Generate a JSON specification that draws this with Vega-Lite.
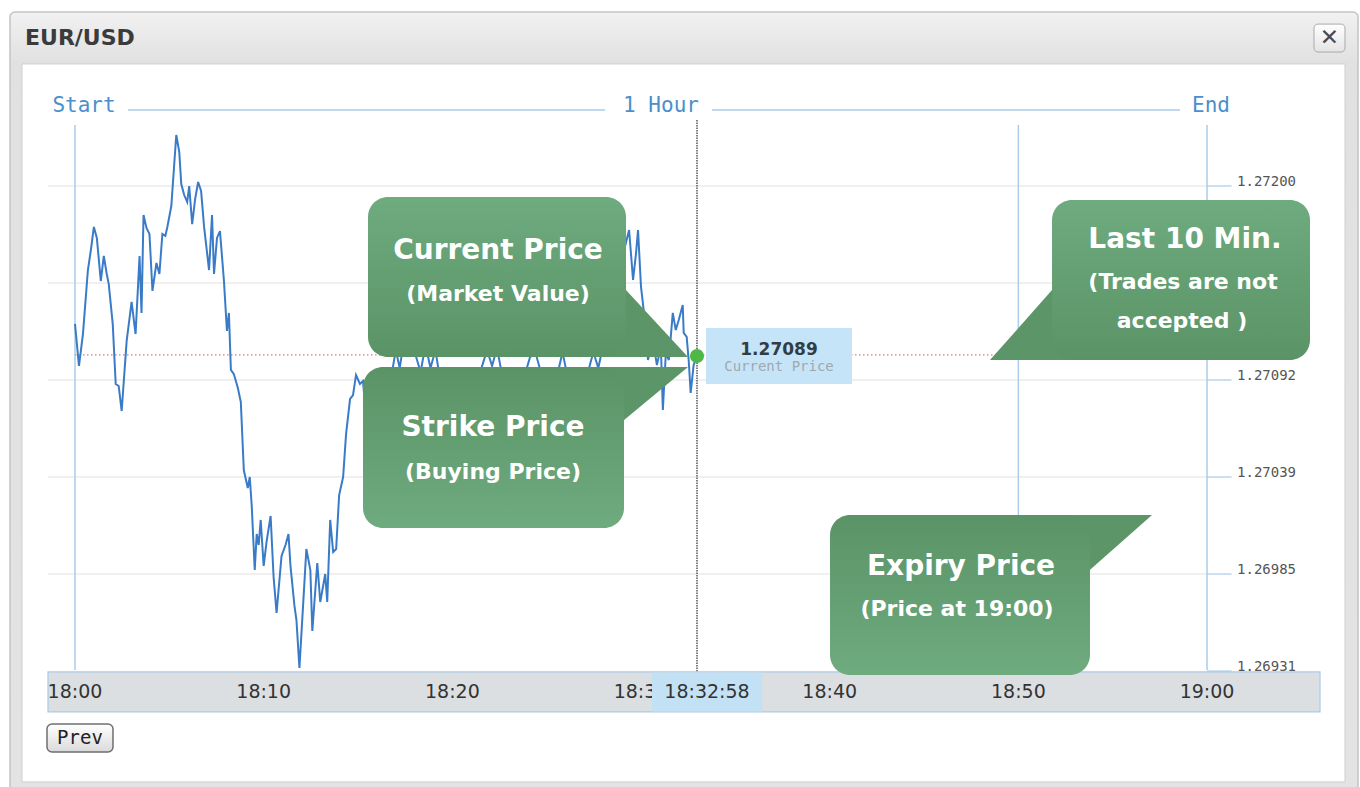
{
  "$schema": "https://vega.github.io/schema/vega-lite/v6.json",
  "width": 1360,
  "height": 787,
  "autosize": {"type": "none"},
  "padding": 0,
  "background": "#ffffff",
  "config": {"view": {"stroke": null}},
  "datasets": {
    "price": [
      {"m":0,"p":1.271235},{"m":0.211,"p":1.271002},{"m":0.421,"p":1.271179},{"m":0.684,"p":1.271534},{"m":0.842,"p":1.271645},
      {"m":1.0,"p":1.271773},{"m":1.158,"p":1.271712},{"m":1.368,"p":1.271473},{"m":1.526,"p":1.271612},{"m":1.684,"p":1.271512},
      {"m":1.789,"p":1.271456},{"m":2.0,"p":1.271235},{"m":2.158,"p":1.270902},{"m":2.316,"p":1.270891},{"m":2.474,"p":1.270752},
      {"m":2.737,"p":1.27114},{"m":3.0,"p":1.271357},{"m":3.211,"p":1.271179},{"m":3.421,"p":1.271612},{"m":3.526,"p":1.271296},
      {"m":3.632,"p":1.271839},{"m":3.789,"p":1.271767},{"m":3.947,"p":1.271734},{"m":4.105,"p":1.271418},{"m":4.316,"p":1.271573},
      {"m":4.474,"p":1.271512},{"m":4.632,"p":1.271734},{"m":4.789,"p":1.271723},{"m":4.895,"p":1.271773},{"m":5.105,"p":1.271889},
      {"m":5.316,"p":1.272205},{"m":5.368,"p":1.272283},{"m":5.526,"p":1.272189},{"m":5.632,"p":1.272011},{"m":5.789,"p":1.27195},
      {"m":5.947,"p":1.271911},{"m":6.053,"p":1.272},{"m":6.211,"p":1.271789},{"m":6.368,"p":1.271928},{"m":6.526,"p":1.272022},
      {"m":6.684,"p":1.271972},{"m":6.842,"p":1.271773},{"m":7.105,"p":1.271534},{"m":7.263,"p":1.271839},{"m":7.368,"p":1.271512},
      {"m":7.526,"p":1.271712},{"m":7.684,"p":1.27175},{"m":7.895,"p":1.271473},{"m":8.053,"p":1.271196},{"m":8.158,"p":1.271296},
      {"m":8.263,"p":1.27098},{"m":8.421,"p":1.270957},{"m":8.632,"p":1.27088},{"m":8.789,"p":1.270802},{"m":8.947,"p":1.270425},
      {"m":9.158,"p":1.270325},{"m":9.263,"p":1.270386},{"m":9.368,"p":1.270225},{"m":9.526,"p":1.26987},{"m":9.632,"p":1.27007},
      {"m":9.737,"p":1.270009},{"m":9.842,"p":1.270148},{"m":10.0,"p":1.269893},{"m":10.158,"p":1.270031},{"m":10.368,"p":1.27017},
      {"m":10.526,"p":1.269832},{"m":10.684,"p":1.269632},{"m":10.947,"p":1.269948},{"m":11.158,"p":1.270009},{"m":11.316,"p":1.27007},
      {"m":11.421,"p":1.269893},{"m":11.632,"p":1.269671},{"m":11.737,"p":1.269593},{"m":11.895,"p":1.269327},{"m":12.0,"p":1.269515},
      {"m":12.263,"p":1.269987},{"m":12.474,"p":1.26987},{"m":12.579,"p":1.269532},{"m":12.842,"p":1.269909},{"m":13.0,"p":1.269693},
      {"m":13.263,"p":1.269848},{"m":13.368,"p":1.269693},{"m":13.526,"p":1.270148},{"m":13.684,"p":1.26997},{"m":13.842,"p":1.269987},
      {"m":14.0,"p":1.270286},{"m":14.211,"p":1.270386},{"m":14.368,"p":1.270625},{"m":14.579,"p":1.270819},{"m":14.737,"p":1.270841},
      {"m":14.895,"p":1.270952},{"m":15.105,"p":1.270902},{"m":15.263,"p":1.270919},{"m":15.421,"p":1.270724},{"m":15.789,"p":1.270869},
      {"m":16.316,"p":1.270702},{"m":16.737,"p":1.270924},{"m":17.0,"p":1.27109},{"m":17.211,"p":1.270991},{"m":17.526,"p":1.271201},
      {"m":17.895,"p":1.271118},{"m":18.316,"p":1.270968},{"m":18.579,"p":1.271118},{"m":18.842,"p":1.270991},{"m":19.105,"p":1.27109},
      {"m":19.474,"p":1.270841},{"m":20.0,"p":1.270675},{"m":20.526,"p":1.270813},{"m":21.053,"p":1.270896},{"m":21.474,"p":1.270968},
      {"m":21.842,"p":1.27109},{"m":22.105,"p":1.271002},{"m":22.368,"p":1.271102},{"m":22.737,"p":1.270896},{"m":23.263,"p":1.270785},
      {"m":23.684,"p":1.270896},{"m":24.105,"p":1.271046},{"m":24.368,"p":1.27109},{"m":24.632,"p":1.270991},{"m":25.053,"p":1.270841},
      {"m":25.526,"p":1.270935},{"m":25.842,"p":1.271079},{"m":26.053,"p":1.270968},{"m":26.579,"p":1.270824},{"m":27.105,"p":1.270935},
      {"m":27.474,"p":1.271079},{"m":27.737,"p":1.270991},{"m":28.158,"p":1.271201},{"m":28.632,"p":1.271368},{"m":29.0,"p":1.271601},
      {"m":29.368,"p":1.271756},{"m":29.579,"p":1.271479},{"m":29.737,"p":1.271628},{"m":29.842,"p":1.271756},{"m":30.0,"p":1.27144},
      {"m":30.263,"p":1.271201},{"m":30.368,"p":1.271035},{"m":30.632,"p":1.271146},{"m":30.842,"p":1.271007},{"m":31.053,"p":1.271107},
      {"m":31.158,"p":1.270758},{"m":31.316,"p":1.271074},{"m":31.474,"p":1.271035},{"m":31.684,"p":1.271296},{"m":31.842,"p":1.271201},
      {"m":32.0,"p":1.271257},{"m":32.211,"p":1.27134},{"m":32.263,"p":1.271185},{"m":32.421,"p":1.271163},{"m":32.526,"p":1.271035},
      {"m":32.632,"p":1.270852},{"m":32.789,"p":1.271007},{"m":32.967,"p":1.271057}
    ],
    "grid": [{"p":1.272},{"p":1.271462},{"p":1.270924},{"p":1.270386},{"p":1.269848}],
    "ylabels": [{"p":1.272},{"p":1.270924},{"p":1.270386},{"p":1.269848},{"p":1.26931}],
    "markers": [{"m":0},{"m":50},{"m":60}],
    "times": [{"m":0,"t":"18:00"},{"m":10,"t":"18:10"},{"m":20,"t":"18:20"},{"m":30,"t":"18:30"},{"m":40,"t":"18:40"},{"m":50,"t":"18:50"},{"m":60,"t":"19:00"}],
    "header": [{"m":0.477,"t":"Start"},{"m":31.06,"t":"1 Hour"},{"m":60.211,"t":"End"}],
    "boxes": [
      {"callout":"Current Price","m1":15.53,"m2":29.205,"p1":1.271939,"p2":1.271052},
      {"callout":"Strike Price","m1":15.265,"m2":29.099,"p1":1.270996,"p2":1.270103},
      {"callout":"Last 10 Min.","m1":51.784,"m2":65.458,"p1":1.271922,"p2":1.271035},
      {"callout":"Expiry Price","m1":40.018,"m2":53.797,"p1":1.270175,"p2":1.269288}
    ],
    "pointers": [
      {"callout":"Current Price","m":27.826,"pa":1.271579,"pb":1.271052},
      {"callout":"Current Price","m":32.491,"pa":1.271052,"pb":1.271052},
      {"callout":"Strike Price","m":27.826,"pa":1.270996,"pb":1.270591},
      {"callout":"Strike Price","m":32.491,"pa":1.270996,"pb":1.270996},
      {"callout":"Last 10 Min.","m":48.497,"pa":1.271035,"pb":1.271035},
      {"callout":"Last 10 Min.","m":53.003,"pa":1.271567,"pb":1.271035},
      {"callout":"Expiry Price","m":52.526,"pa":1.270175,"pb":1.269754},
      {"callout":"Expiry Price","m":57.085,"pa":1.270175,"pb":1.270175}
    ],
    "notes": [
      {"text":"Current Price","m":22.42,"p":1.271639,"level":"head"},
      {"text":"(Market Value)","m":22.42,"p":1.271401,"level":"sub"},
      {"text":"Strike Price","m":22.155,"p":1.270658,"level":"head"},
      {"text":"(Buying Price)","m":22.155,"p":1.270414,"level":"sub"},
      {"text":"Last 10 Min.","m":58.833,"p":1.271701,"level":"head"},
      {"text":"(Trades are not","m":58.727,"p":1.271468,"level":"sub"},
      {"text":"accepted )","m":58.674,"p":1.271252,"level":"sub"},
      {"text":"Expiry Price","m":46.961,"p":1.269887,"level":"head"},
      {"text":"(Price at 19:00)","m":46.749,"p":1.269655,"level":"sub"}
    ]
  },
  "layer": [
    {
      "data": {"values": [{}]},
      "mark": {"type": "rect", "fill": {"gradient": "linear", "x1": 0, "y1": 0, "x2": 0, "y2": 1, "stops": [{"offset": 0, "color": "#f1f1f1"}, {"offset": 0.065, "color": "#e1e1e1"}, {"offset": 1, "color": "#e3e3e3"}]}, "stroke": "#c4c4c4", "strokeWidth": 1.5, "cornerRadius": 5},
      "encoding": {
        "x": {"datum": -3.445, "type": "quantitative", "axis": null, "scale": {"domain": [-3.975, 68.108], "nice": false, "zero": false}},
        "x2": {"datum": 68.003},
        "y": {"datum": 1.272965, "type": "quantitative", "axis": null, "scale": {"domain": [1.2686669, 1.2730316], "nice": false, "zero": false}},
        "y2": {"datum": 1.26865}
      }
    },
    {
      "data": {"values": [{}]},
      "mark": {"type": "rect", "fill": "#ffffff", "stroke": "#cfcfcf", "strokeWidth": 1},
      "encoding": {
        "x": {"datum": -2.809, "type": "quantitative", "axis": null},
        "x2": {"datum": 67.313},
        "y": {"datum": 1.272677, "type": "quantitative", "axis": null},
        "y2": {"datum": 1.268695}
      }
    },
    {
      "data": {"values": [{"title": "EUR/USD"}]},
      "mark": {"type": "text", "font": "DejaVu Sans", "fontWeight": "bold", "fontSize": 22, "color": "#3b3b3b", "align": "left", "baseline": "middle"},
      "encoding": {
        "text": {"field": "title"},
        "x": {"datum": -2.65, "type": "quantitative", "axis": null},
        "y": {"datum": 1.272821, "type": "quantitative", "axis": null}
      }
    },
    {
      "data": {"values": [{}]},
      "mark": {"type": "rect", "fill": {"gradient": "linear", "x1": 0, "y1": 0, "x2": 0, "y2": 1, "stops": [{"offset": 0, "color": "#ffffff"}, {"offset": 1, "color": "#e4e4e4"}]}, "stroke": "#a9a9a9", "strokeWidth": 1, "cornerRadius": 4},
      "encoding": {
        "x": {"datum": 65.67, "type": "quantitative", "axis": null},
        "x2": {"datum": 67.313},
        "y": {"datum": 1.272898, "type": "quantitative", "axis": null},
        "y2": {"datum": 1.272743}
      }
    },
    {
      "data": {"values": [{"glyph": "✕"}]},
      "mark": {"type": "text", "font": "DejaVu Sans", "fontSize": 23, "color": "#4a4a4a", "align": "center", "baseline": "middle"},
      "encoding": {
        "text": {"field": "glyph"},
        "x": {"datum": 66.492, "type": "quantitative", "axis": null},
        "y": {"datum": 1.272821, "type": "quantitative", "axis": null}
      }
    },
    {
      "data": {"values": [{}]},
      "mark": {"type": "rule", "color": "#a9cdea", "strokeWidth": 1.5},
      "encoding": {
        "x": {"datum": 2.809, "type": "quantitative", "axis": null},
        "x2": {"datum": 28.091},
        "y": {"datum": 1.272421, "type": "quantitative", "axis": null}
      }
    },
    {
      "data": {"values": [{}]},
      "mark": {"type": "rule", "color": "#a9cdea", "strokeWidth": 1.5},
      "encoding": {
        "x": {"datum": 33.763, "type": "quantitative", "axis": null},
        "x2": {"datum": 58.568},
        "y": {"datum": 1.272421, "type": "quantitative", "axis": null}
      }
    },
    {
      "data": {"name": "header"},
      "mark": {"type": "text", "font": "DejaVu Sans Mono", "fontSize": 21, "color": "#4b8fcc", "align": "center", "baseline": "middle"},
      "encoding": {
        "text": {"field": "t"},
        "x": {"field": "m", "type": "quantitative", "axis": null},
        "y": {"datum": 1.272444, "type": "quantitative", "axis": null}
      }
    },
    {
      "data": {"name": "grid"},
      "mark": {"type": "rule", "color": "#ebebeb", "strokeWidth": 1.5},
      "encoding": {
        "x": {"datum": -1.431, "type": "quantitative", "axis": null},
        "x2": {"datum": 60},
        "y": {"field": "p", "type": "quantitative", "axis": null}
      }
    },
    {
      "data": {"name": "ylabels"},
      "mark": {"type": "rule", "color": "#a9cbe8", "strokeWidth": 1.2},
      "encoding": {
        "x": {"datum": 60, "type": "quantitative", "axis": null},
        "x2": {"datum": 61.3},
        "y": {"field": "p", "type": "quantitative", "axis": null}
      }
    },
    {
      "data": {"name": "ylabels"},
      "mark": {"type": "text", "font": "DejaVu Sans Mono", "fontSize": 14, "color": "#555555", "align": "left", "baseline": "alphabetic"},
      "encoding": {
        "text": {"field": "p", "type": "quantitative", "format": ".5f"},
        "x": {"datum": 61.59, "type": "quantitative", "axis": null},
        "y": {"field": "p", "type": "quantitative", "axis": null}
      }
    },
    {
      "data": {"name": "markers"},
      "mark": {"type": "rule", "color": "#a9cdea", "strokeWidth": 1.5},
      "encoding": {
        "x": {"field": "m", "type": "quantitative", "axis": null},
        "y": {"datum": 1.272338, "type": "quantitative", "axis": null},
        "y2": {"datum": 1.269316}
      }
    },
    {
      "data": {"values": [{"m": 32.967}]},
      "mark": {"type": "rule", "color": "#555555", "strokeWidth": 1.5, "strokeDash": [1.5, 1]},
      "encoding": {
        "x": {"field": "m", "type": "quantitative", "axis": null},
        "y": {"datum": 1.272366, "type": "quantitative", "axis": null},
        "y2": {"datum": 1.269305}
      }
    },
    {
      "data": {"values": [{"strike": 1.271063}]},
      "mark": {"type": "rule", "color": "#e27c7c", "strokeWidth": 1.3, "strokeDash": [1.5, 2.5]},
      "encoding": {
        "x": {"datum": 0, "type": "quantitative", "axis": null},
        "x2": {"datum": 60},
        "y": {"field": "strike", "type": "quantitative", "axis": null}
      }
    },
    {
      "data": {"name": "price"},
      "mark": {"type": "line", "color": "#3a7bc8", "strokeWidth": 2, "interpolate": "linear"},
      "encoding": {
        "x": {"field": "m", "type": "quantitative", "axis": null},
        "y": {"field": "p", "type": "quantitative", "axis": null}
      }
    },
    {
      "data": {"values": [{}]},
      "mark": {"type": "rect", "fill": "#dcdfe2", "stroke": "#a9cbe6", "strokeWidth": 1.2},
      "encoding": {
        "x": {"datum": -1.431, "type": "quantitative", "axis": null},
        "x2": {"datum": 65.989},
        "y": {"datum": 1.269305, "type": "quantitative", "axis": null},
        "y2": {"datum": 1.269083}
      }
    },
    {
      "data": {"name": "times"},
      "mark": {"type": "text", "font": "DejaVu Sans", "fontSize": 19, "color": "#333333", "align": "center", "baseline": "middle"},
      "encoding": {
        "text": {"field": "t"},
        "x": {"field": "m", "type": "quantitative", "axis": null},
        "y": {"datum": 1.269194, "type": "quantitative", "axis": null}
      }
    },
    {
      "data": {"values": [{}]},
      "mark": {"type": "rect", "fill": "#c3e1f5"},
      "encoding": {
        "x": {"datum": 30.583, "type": "quantitative", "axis": null},
        "x2": {"datum": 36.413},
        "y": {"datum": 1.269302, "type": "quantitative", "axis": null},
        "y2": {"datum": 1.269086}
      }
    },
    {
      "data": {"values": [{"now": "18:32:58"}]},
      "mark": {"type": "text", "font": "DejaVu Sans", "fontSize": 19, "color": "#333333", "align": "center", "baseline": "middle"},
      "encoding": {
        "text": {"field": "now"},
        "x": {"datum": 33.498, "type": "quantitative", "axis": null},
        "y": {"datum": 1.269194, "type": "quantitative", "axis": null}
      }
    },
    {
      "data": {"values": [{}]},
      "mark": {"type": "rect", "fill": {"gradient": "linear", "x1": 0, "y1": 0, "x2": 0, "y2": 1, "stops": [{"offset": 0, "color": "#ffffff"}, {"offset": 1, "color": "#dadada"}]}, "stroke": "#6f6f6f", "strokeWidth": 1.5, "cornerRadius": 5},
      "encoding": {
        "x": {"datum": -1.484, "type": "quantitative", "axis": null},
        "x2": {"datum": 2.014},
        "y": {"datum": 1.269016, "type": "quantitative", "axis": null},
        "y2": {"datum": 1.268861}
      }
    },
    {
      "data": {"values": [{"b": "Prev"}]},
      "mark": {"type": "text", "font": "DejaVu Sans Mono", "fontSize": 19, "color": "#222222", "align": "center", "baseline": "middle"},
      "encoding": {
        "text": {"field": "b"},
        "x": {"datum": 0.265, "type": "quantitative", "axis": null},
        "y": {"datum": 1.268939, "type": "quantitative", "axis": null}
      }
    },
    {
      "data": {"values": [{}]},
      "mark": {"type": "rect", "fill": "#c6e4f7"},
      "encoding": {
        "x": {"datum": 33.445, "type": "quantitative", "axis": null},
        "x2": {"datum": 41.183},
        "y": {"datum": 1.271212, "type": "quantitative", "axis": null},
        "y2": {"datum": 1.270902}
      }
    },
    {
      "data": {"values": [{"v": "1.27089"}]},
      "mark": {"type": "text", "font": "DejaVu Sans", "fontWeight": "bold", "fontSize": 17, "color": "#323c46", "align": "center", "baseline": "middle"},
      "encoding": {
        "text": {"field": "v"},
        "x": {"datum": 37.314, "type": "quantitative", "axis": null},
        "y": {"datum": 1.27109, "type": "quantitative", "axis": null}
      }
    },
    {
      "data": {"values": [{"v": "Current Price"}]},
      "mark": {"type": "text", "font": "DejaVu Sans Mono", "fontSize": 14, "color": "#9ea8b0", "align": "center", "baseline": "middle"},
      "encoding": {
        "text": {"field": "v"},
        "x": {"datum": 37.314, "type": "quantitative", "axis": null},
        "y": {"datum": 1.270996, "type": "quantitative", "axis": null}
      }
    },
    {
      "data": {"name": "pointers"},
      "mark": {"type": "area", "color": "#5c9568", "interpolate": "linear"},
      "encoding": {
        "x": {"field": "m", "type": "quantitative", "axis": null},
        "y": {"field": "pa", "type": "quantitative", "axis": null},
        "y2": {"field": "pb"},
        "detail": {"field": "callout", "type": "nominal"}
      }
    },
    {
      "data": {"name": "boxes"},
      "transform": [{"filter": "datum.callout == 'Current Price' || datum.callout == 'Last 10 Min.'"}],
      "mark": {"type": "rect", "cornerRadius": 20, "fill": {"gradient": "linear", "x1": 0, "y1": 0, "x2": 0, "y2": 1, "stops": [{"offset": 0, "color": "#6eab7f"}, {"offset": 1, "color": "#5a9366"}]}},
      "encoding": {
        "x": {"field": "m1", "type": "quantitative", "axis": null},
        "x2": {"field": "m2"},
        "y": {"field": "p1", "type": "quantitative", "axis": null},
        "y2": {"field": "p2"}
      }
    },
    {
      "data": {"name": "boxes"},
      "transform": [{"filter": "datum.callout == 'Strike Price' || datum.callout == 'Expiry Price'"}],
      "mark": {"type": "rect", "cornerRadius": 20, "fill": {"gradient": "linear", "x1": 0, "y1": 0, "x2": 0, "y2": 1, "stops": [{"offset": 0, "color": "#5a9366"}, {"offset": 1, "color": "#6eab7f"}]}},
      "encoding": {
        "x": {"field": "m1", "type": "quantitative", "axis": null},
        "x2": {"field": "m2"},
        "y": {"field": "p1", "type": "quantitative", "axis": null},
        "y2": {"field": "p2"}
      }
    },
    {
      "data": {"name": "notes"},
      "mark": {"type": "text", "font": "DejaVu Sans", "fontWeight": "bold", "color": "#ffffff", "align": "center", "baseline": "middle"},
      "encoding": {
        "text": {"field": "text"},
        "x": {"field": "m", "type": "quantitative", "axis": null},
        "y": {"field": "p", "type": "quantitative", "axis": null},
        "size": {"field": "level", "type": "nominal", "scale": {"domain": ["head", "sub"], "range": [28, 22]}, "legend": null}
      }
    },
    {
      "data": {"name": "price"},
      "transform": [{"filter": "datum.m > 32.9"}],
      "mark": {"type": "point", "filled": true, "size": 200, "color": "#4db848", "opacity": 1},
      "encoding": {
        "x": {"field": "m", "type": "quantitative", "axis": null},
        "y": {"field": "p", "type": "quantitative", "axis": null}
      }
    }
  ]
}
